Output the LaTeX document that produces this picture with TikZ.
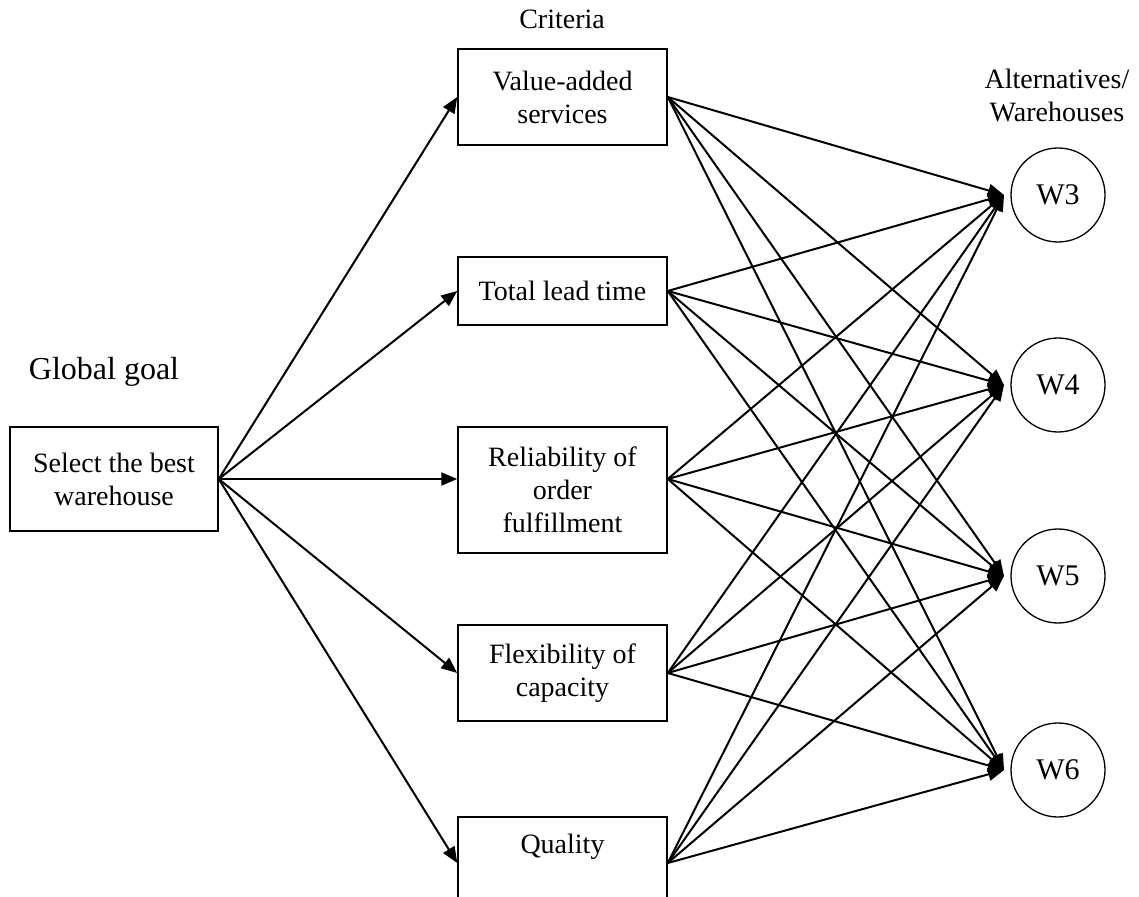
\documentclass[tikz,border=0pt]{standalone}
\usepackage{fontspec}
\setmainfont{Liberation Serif}
\usetikzlibrary{arrows.meta}
\begin{document}
\begin{tikzpicture}[x=0.5pt,y=-0.5pt,
  every node/.style={font=\fontsize{14}{16.5}\selectfont, align=center},
  box/.style={draw, line width=0.75pt, minimum width=104.5pt, inner sep=0pt},
  alt/.style={draw, circle, line width=0.65pt, minimum size=47pt, inner sep=0pt, outer sep=3.5pt, font=\fontsize{15}{18}\selectfont},
  conn/.style={line width=1pt, -{Triangle[length=8pt,width=6.5pt]}}]
\clip (0,0) rectangle (1139,897);
\useasboundingbox (0,0) rectangle (1139,897);
% labels
\node (crit) at (562,19) {Criteria};
\node (altlab) at (1057,96) {Alternatives/\\Warehouses};
\node[font=\fontsize{16}{19}\selectfont] (glob) at (104,372) {Global goal};
% goal
\node[box, minimum width=104pt, minimum height=52pt] (goal) at (114,479) {Select the best\\warehouse};
% criteria
\node[box, minimum height=48pt] (va) at (562.5,97) {Value-added\\services};
\node[box, minimum height=34pt] (tlt) at (562.5,291) {Total lead time};
\node[box, minimum height=63pt] (rel) at (562.5,490) {Reliability of\\order\\fulfillment};
\node[box, minimum height=48pt] (flex) at (562.5,673) {Flexibility of\\capacity};
\node[box, minimum height=46pt] (qual) at (562.5,863) {};
\node (qualtext) at (562.5,847) {Quality};
\coordinate (relin) at (rel.west |- goal.east);
\coordinate (relout) at (rel.east |- goal.east);
% alternatives
\node[alt] (w3) at (1058,195) {W3};
\node[alt] (w4) at (1058,385) {W4};
\node[alt] (w5) at (1058,576) {W5};
\node[alt] (w6) at (1058,770) {W6};
% goal to criteria
\draw[conn] (goal.east) -- (va.west);
\draw[conn] (goal.east) -- (tlt.west);
\draw[conn] (goal.east) -- (relin);
\draw[conn] (goal.east) -- (flex.west);
\draw[conn] (goal.east) -- (qual.west);
% criteria to alternatives
\foreach \c in {va.east,tlt.east,relout,flex.east,qual.east}{
  \foreach \w in {w3,w4,w5,w6}{
    \draw[conn] (\c) -- (\w.west);
  }
}
\end{tikzpicture}
\end{document}
